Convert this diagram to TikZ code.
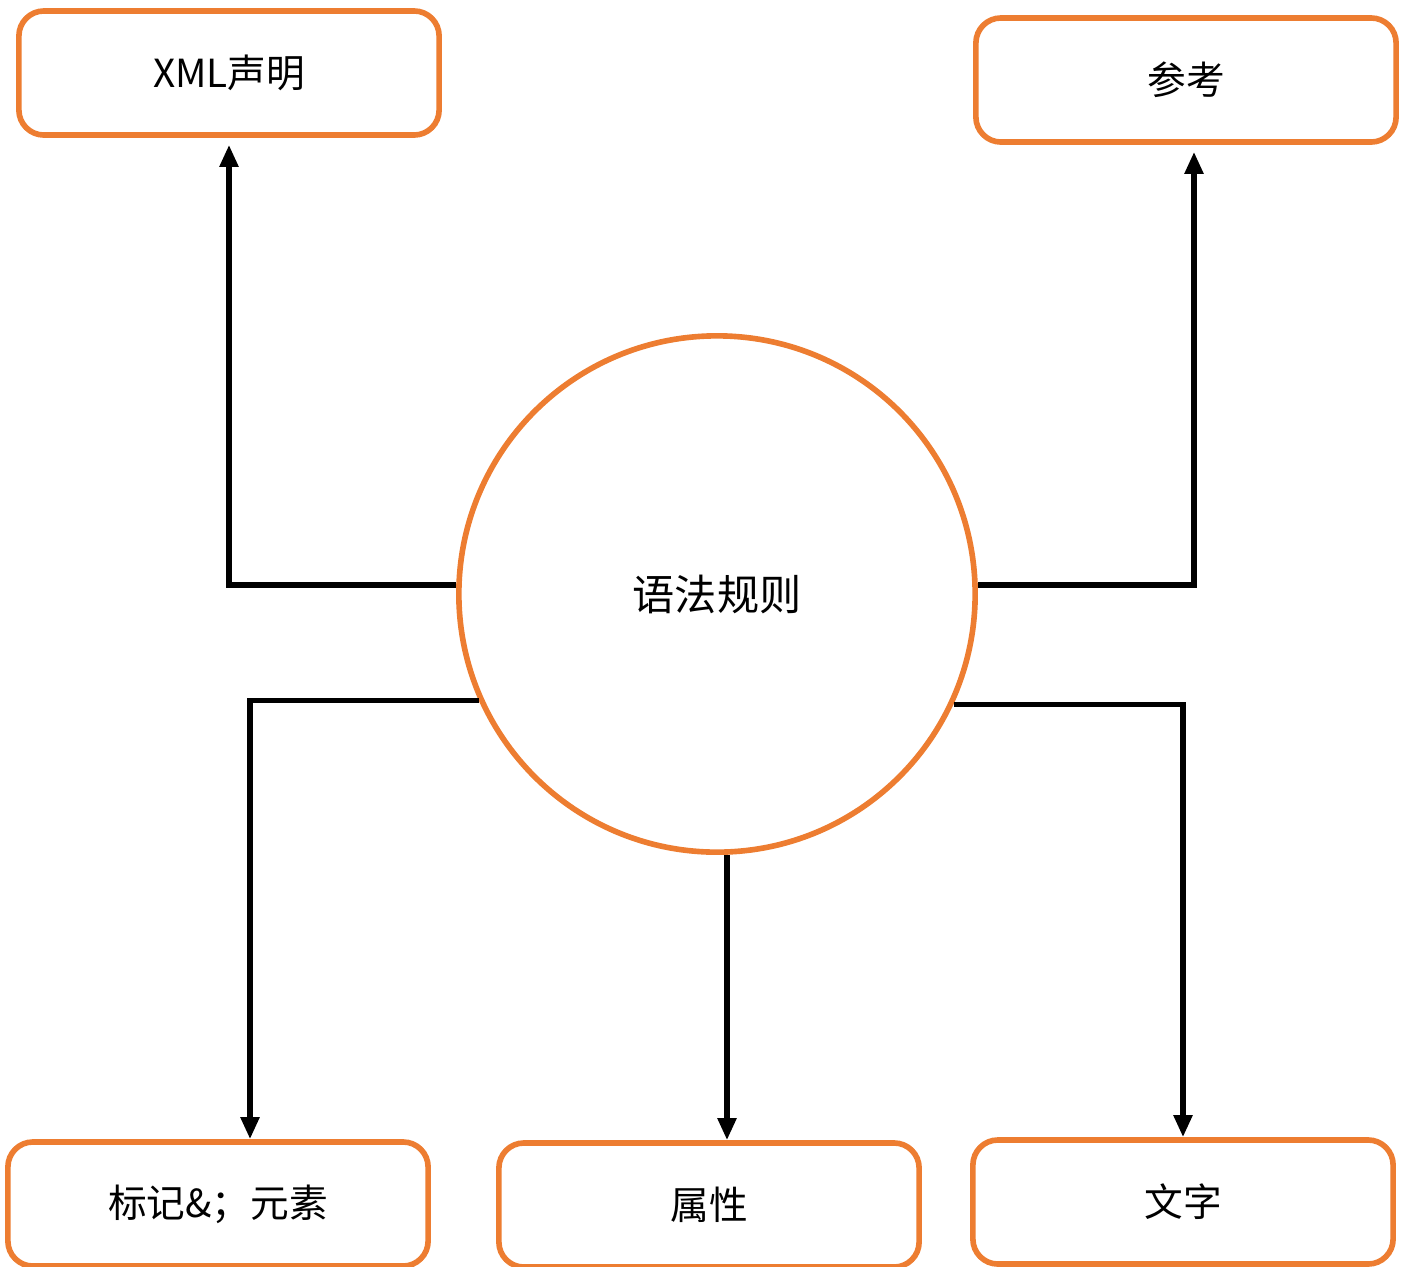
\documentclass[tikz,border=0pt]{standalone}
\usepackage{fontspec}
\newfontfamily\cjk{Noto Sans CJK SC}
\usetikzlibrary{arrows.meta}
\definecolor{office}{HTML}{ED7D31}
\tikzset{
  box/.style={draw=office, line width=1.6pt, rounded corners=0.25cm, fill=white,
    minimum width=4.2cm, minimum height=1.24cm, font=\cjk\fontsize{11pt}{13pt}\selectfont},
  hub/.style={circle, draw=office, line width=1.6pt, minimum size=5.16cm, inner sep=0pt,
    font=\cjk\fontsize{12pt}{14pt}\selectfont},
  link/.style={line width=1.5pt, -{Triangle[length=0.22cm,width=0.18cm]}}
}
\begin{document}
\begin{tikzpicture}[x=0.01cm, y=-0.01cm]
\useasboundingbox (0,0) rectangle (1409,1266);
\node[box] (xml) at (229,73) {XML声明}; % top left
\node[box] (ref) at (1186,80) {参考}; % top right
\node[hub] (rule) at (717,594) {语法规则};
\node[box] (tag) at (218,1204) {标记\&；元素};
\node[box] (attr) at (709,1205) {属性};
\node[box] (word) at (1183,1202) {文字};
\draw[link, shorten >=0.07cm] (rule.178) -| (xml.south);
\draw[link, shorten >=0.07cm] (rule.2) -| ([xshift=0.08cm]ref.south);
\draw[link] (rule.204) -| ([xshift=0.32cm]tag.north);
\draw[link] ([xshift=0.1cm]rule.south) -- ([xshift=0.1cm]rule.south |- attr.north);
\draw[link] (rule.-25) -| (word.north);
\end{tikzpicture}
\end{document}
